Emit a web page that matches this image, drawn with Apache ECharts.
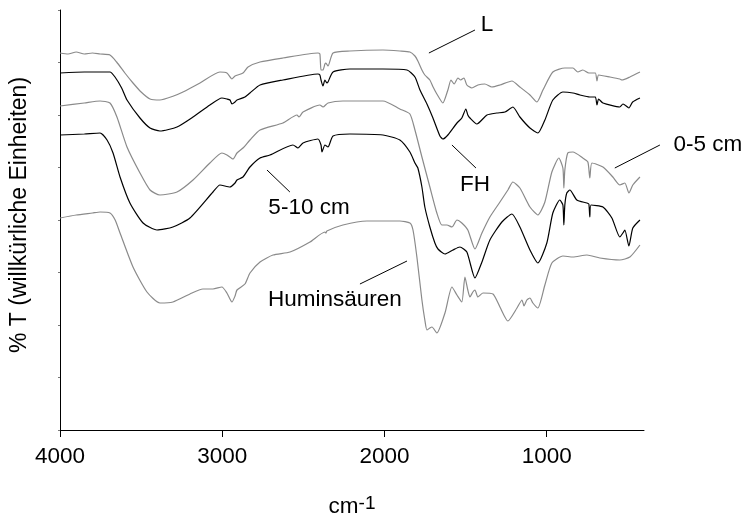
<!DOCTYPE html>
<html><head><meta charset="utf-8">
<script src="https://cdn.jsdelivr.net/npm/echarts@6/dist/echarts.min.js"></script>
<style>html,body{margin:0;padding:0;background:#fff}#c{width:744px;height:518px}</style>
</head><body><div id="c"></div>
<script>
// x tick positions (cm^-1)
const xTicks = [4000, 3000, 2000, 1000];
const seriesNames = ['L', 'FH', '0-5 cm', '5-10 cm', 'Huminsäuren'];
const seriesColors = ['#8a8a8a', '#000000', '#8a8a8a', '#000000', '#8a8a8a'];

// [wavenumber, %T (arbitrary units)]
const dataL = [[4000,377],[3950,376],[3900,378],[3850,376],[3800,377],[3753,376],[3692,375],[3651,368],[3600,357],[3550,347],[3500,338],[3445,331],[3384,330],[3300,334],[3242,338],[3137,347],[3014,358],[2971,357],[2940,351],[2921,354],[2872,357],[2841,363],[2767,368],[2626,372],[2410,377],[2398,376],[2391,360],[2379,360],[2367,366],[2361,367],[2348,364],[2317,377],[2213,379],[2009,380],[1905,379],[1843,378],[1812,374],[1794,369],[1769,360],[1751,355],[1720,350],[1700,343],[1677,336],[1640,327],[1609,340],[1590,350],[1570,346],[1547,352],[1530,350],[1510,352],[1492,345],[1461,342],[1424,345],[1381,346],[1338,343],[1288,345],[1214,349],[1165,343],[1103,335],[1060,328],[1023,340],[962,358],[888,362],[838,362],[808,358],[777,360],[740,357],[700,357],[690,349],[680,355],[610,353],[549,351],[536,350],[487,353],[425,358]];
const dataFH = [[4000,357],[3850,358],[3692,358],[3661,353],[3620,342],[3587,330],[3507,312],[3445,302],[3384,299],[3279,303],[3180,313],[3076,325],[3002,332],[2971,331],[2952,330],[2940,326],[2921,328],[2909,330],[2860,333],[2829,337],[2767,345],[2626,350],[2410,356],[2398,355],[2391,350],[2379,344],[2367,350],[2355,347],[2348,348],[2317,358],[2213,361],[2009,361],[1861,360],[1812,353],[1781,340],[1738,326],[1701,312],[1658,294],[1640,291],[1609,295],[1553,307],[1523,312],[1498,321],[1486,315],[1473,312],[1430,306],[1368,315],[1307,317],[1257,318],[1208,323],[1165,313],[1103,302],[1054,297],[1011,310],[962,330],[900,338],[838,337],[795,335],[734,333],[700,333],[690,325],[680,331],[653,327],[549,323],[530,326],[518,325],[493,322],[470,328],[425,332]];
const data05 = [[4000,324],[3850,327],[3753,329],[3692,327],[3649,313],[3587,283],[3507,257],[3445,240],[3384,235],[3279,238],[3180,250],[3076,267],[3002,277],[2971,275],[2934,271],[2909,277],[2872,282],[2829,290],[2767,300],[2626,307],[2539,315],[2527,313],[2502,318],[2398,325],[2379,323],[2348,327],[2256,329],[2009,329],[1905,321],[1843,316],[1812,300],[1769,273],[1720,243],[1677,217],[1646,205],[1615,205],[1584,203],[1553,210],[1523,207],[1486,200],[1442,181],[1399,197],[1350,213],[1288,228],[1239,240],[1208,248],[1165,242],[1103,223],[1054,215],[1011,228],[968,258],[925,272],[900,262],[894,242],[888,260],[870,277],[838,278],[777,272],[746,268],[734,252],[721,267],[653,263],[592,253],[549,245],[518,247],[493,237],[469,245],[425,253]];
const data510 = [[4000,295],[3850,296],[3753,297],[3710,290],[3673,277],[3630,253],[3569,227],[3488,207],[3402,200],[3304,203],[3199,212],[3057,238],[3014,245],[2952,243],[2921,247],[2909,250],[2872,253],[2829,263],[2767,272],[2706,275],[2564,285],[2533,282],[2502,287],[2410,291],[2391,285],[2385,278],[2367,285],[2348,283],[2317,294],[2213,296],[2009,295],[1905,290],[1843,278],[1812,267],[1794,262],[1769,243],[1751,223],[1720,203],[1689,187],[1670,181],[1627,176],[1578,180],[1535,183],[1492,178],[1442,152],[1399,168],[1350,190],[1276,208],[1214,216],[1165,203],[1103,180],[1054,167],[999,187],[962,217],[919,230],[900,225],[894,205],[888,225],[876,237],[857,240],[814,230],[752,227],[740,226],[734,213],[727,225],[653,223],[598,212],[549,193],[530,197],[518,200],[493,184],[469,202],[425,210]];
const dataHum = [[4000,212],[3900,215],[3800,217],[3753,218],[3692,217],[3660,210],[3630,197],[3550,163],[3464,138],[3384,127],[3304,128],[3199,136],[3119,141],[3057,141],[3002,143],[2971,137],[2940,128],[2921,134],[2909,140],[2860,146],[2829,157],[2767,168],[2687,175],[2582,178],[2459,188],[2367,198],[2361,197],[2355,199],[2256,205],[2108,209],[1905,209],[1843,207],[1824,200],[1800,173],[1769,130],[1751,110],[1738,100],[1720,102],[1707,103],[1677,97],[1627,117],[1584,143],[1553,135],[1523,128],[1504,153],[1486,140],[1473,133],[1455,138],[1442,140],[1424,133],[1393,137],[1331,136],[1288,123],[1239,109],[1183,122],[1152,130],[1140,124],[1122,130],[1103,132],[1085,127],[1054,122],[1011,145],[968,167],[900,174],[838,173],[752,175],[672,172],[549,170],[487,173],[425,185]];
const allData = [dataL, dataFH, data05, data510, dataHum];

// annotation labels (data coordinates)
const annLabels = ['L', 'FH', '0-5 cm', '5-10 cm', 'Huminsäuren'];
const annTextPos = [[1368,405],[1442,245],[6,285],[2465,222],[2305,130]];
const annLineFrom = [[1726,377],[1584,285],[580,262],[2724,260],[2151,146]];
const annLineTo = [[1442,400],[1436,262],[302,285],[2583,238],[1861,169]];

const FONT = 'Liberation Sans, Arial, Helvetica, sans-serif';
const chart = echarts.init(document.getElementById('c'), null, {renderer: 'canvas'});
chart.setOption({
  animation: false,
  backgroundColor: '#fff',
  grid: {left: 60, right: 100, top: 10, bottom: 88, containLabel: false, outerBoundsMode: 'none'},
  xAxis: {
    type: 'value', inverse: true, min: 400, max: 4000,
    name: '{a|cm}{b|-1}', nameLocation: 'middle', nameGap: 64,
    nameTextStyle: {rich: {
      a: {fontSize: 22.5, fontFamily: FONT, color: '#000', lineHeight: 24, verticalAlign: 'bottom'},
      b: {fontSize: 19, fontFamily: FONT, color: '#000', verticalAlign: 'top', lineHeight: 18}
    }},
    axisLine: {lineStyle: {color: '#000', width: 1}},
    axisTick: {show: true, length: 7, customValues: xTicks, lineStyle: {color: '#000'}},
    axisLabel: {customValues: xTicks, fontSize: 22.5, fontFamily: FONT, color: '#000', margin: 15,
      formatter: v => String(v)},
    splitLine: {show: false}
  },
  yAxis: {
    type: 'value', min: 0, max: 420, interval: 52.5,
    name: '% T (willkürliche Einheiten)', nameLocation: 'middle', nameGap: 29,
    nameTextStyle: {fontSize: 23, fontFamily: FONT, color: '#000', padding: [0, 0, 0, 10]},
    axisLine: {show: true, lineStyle: {color: '#000', width: 1}},
    axisTick: {show: true, length: 2, lineStyle: {color: '#777'}},
    axisLabel: {show: false},
    splitLine: {show: false}
  },
  series: allData.map((d, i) => ({
    name: seriesNames[i], type: 'line', data: d, symbol: 'none', smooth: 0.2,
    lineStyle: {color: seriesColors[i], width: 1.2}, silent: true, z: 2
  }))
});

const px = p => chart.convertToPixel({gridIndex: 0}, p);
const graphics = [];
annLabels.forEach((t, i) => {
  const a = px(annLineFrom[i]), b = px(annLineTo[i]), c = px(annTextPos[i]);
  graphics.push({type: 'line', shape: {x1: a[0], y1: a[1], x2: b[0], y2: b[1]}, style: {stroke: '#000', lineWidth: 1}, silent: true});
  graphics.push({type: 'text', x: c[0], y: c[1], style: {text: t, font: '22.5px ' + FONT, fill: '#000', textAlign: 'center', textVerticalAlign: 'middle'}, silent: true});
});
chart.setOption({graphic: graphics});
</script>
</body></html>
